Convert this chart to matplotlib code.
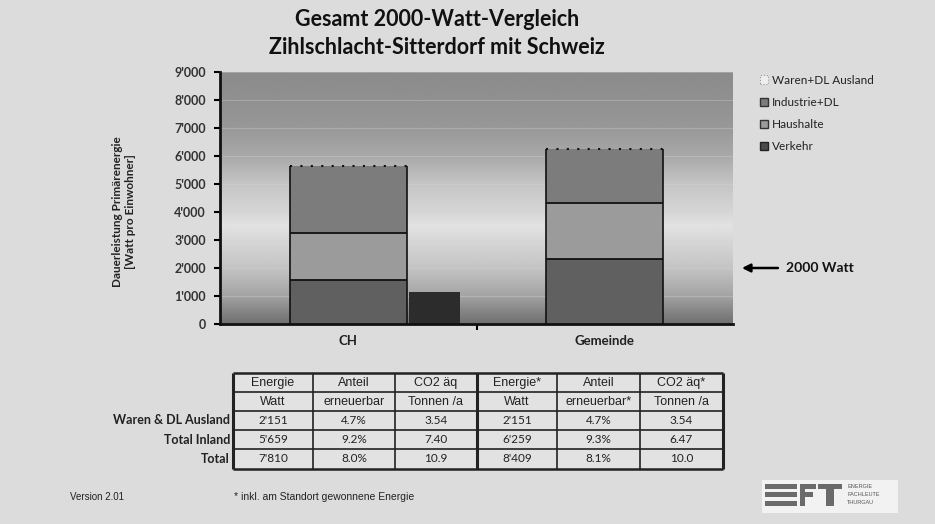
import matplotlib
matplotlib.use("Agg")
import matplotlib.pyplot as plt
import numpy as np
from matplotlib.patches import Patch, Rectangle
from matplotlib.ticker import FuncFormatter
import matplotlib.transforms as mtransforms

# --- data -------------------------------------------------------------
categories = ["CH", "Gemeinde"]
verkehr = [1580, 2320]
haushalte = [1680, 1990]
industrie = [2399, 1949]
total_inland = [5659, 6259]
shadow_height = [1130]          # dark block next to the CH bar
target_watt = 2000

series_names = ["Waren+DL Ausland", "Industrie+DL", "Haushalte", "Verkehr"]

col_head1 = ["Energie", "Anteil", "CO2 äq", "Energie*", "Anteil", "CO2 äq*"]
col_head2 = ["Watt", "erneuerbar", "Tonnen /a", "Watt", "erneuerbar*", "Tonnen /a"]
row_labels = ["Waren & DL Ausland", "Total Inland", "Total"]
table_rows = [
    ["2'151", "4.7%", "3.54", "2'151", "4.7%", "3.54"],
    ["5'659", "9.2%", "7.40", "6'259", "9.3%", "6.47"],
    ["7'810", "8.0%", "10.9", "8'409", "8.1%", "10.0"],
]

# --- styling ----------------------------------------------------------
BG = "#dcdcdc"
C_VERKEHR = "#606060"
C_HAUS = "#9b9b9b"
C_IND = "#7c7c7c"
FONT = "Lato"

fig = plt.figure(figsize=(9.35, 5.24), dpi=100, facecolor=BG)
W, H = 935, 524

ax = fig.add_axes([220 / W, 1 - 324 / H, 513 / W, 252 / H])
x = np.arange(len(categories))
bw = 0.456
ax.set_xlim(-0.5, 1.5)
ax.set_ylim(0, 9000)

# background gradient of the plot area
stops_y = [0, 500, 1000, 2000, 3000, 3500, 4000, 5000, 6000, 7000, 8000, 9000]
stops_g = [0x70, 0x88, 0xa4, 0xc4, 0xd8, 0xe2, 0xd6, 0xc4, 0xa8, 0x98, 0x90, 0x8b]
yy = np.linspace(0, 9000, 400)
gg = np.interp(yy, stops_y, stops_g) / 255.0
ax.imshow(gg[:, None], cmap="gray", vmin=0, vmax=1, aspect="auto",
          extent=[-0.5, 1.5, 0, 9000], origin="lower", zorder=0)
for v in range(1000, 9001, 1000):
    ax.axhline(v, color="#d4d4d4", lw=0.8, alpha=0.35, zorder=1)

# stacked bars
b1 = np.array(verkehr)
b2 = b1 + np.array(haushalte)
ax.bar(x, verkehr, bw, color=C_VERKEHR, zorder=2)
ax.bar(x, haushalte, bw, bottom=b1, color=C_HAUS, zorder=2)
ax.bar(x, industrie, bw, bottom=b2, color=C_IND, zorder=2)
ax.bar(x[:1] + 0.335, shadow_height, 0.2, color="#2c2c2c", zorder=2)

for i in x:
    ax.vlines([i - bw / 2, i + bw / 2], 0, total_inland[i], color="#111111", lw=1.2, zorder=3)
    ax.hlines([b1[i], b2[i]], i - bw / 2, i + bw / 2, color="#111111", lw=1.3, zorder=3)
    ax.hlines(total_inland[i], i - bw / 2, i + bw / 2, color="#111111", lw=1.5,
              linestyles=(0, (1, 4)), zorder=3)

# axes styling
for s in ["top", "right"]:
    ax.spines[s].set_visible(False)
ax.spines["left"].set_linewidth(2)
ax.spines["bottom"].set_linewidth(2)
ax.spines["left"].set_color("#111111")
ax.spines["bottom"].set_color("#111111")
ax.set_yticks(range(0, 9001, 1000))
ax.yaxis.set_major_formatter(FuncFormatter(lambda v, p: f"{int(v):,}".replace(",", "'")))
ax.tick_params(axis="y", direction="out", length=4, width=1.5, labelsize=9,
               labelcolor="#333333", pad=6)
for t in ax.get_yticklabels():
    t.set_fontfamily(FONT)
    t.set_fontweight("bold")
ax.set_xticks(x)
ax.set_xticklabels(categories, fontsize=9.5, fontweight="bold", fontfamily=FONT, color="#222222")
ax.tick_params(axis="x", length=0, pad=8)
ax.set_xticks([0.5], minor=True)
ax.tick_params(axis="x", which="minor", length=4, width=1.5, direction="out")

# legend
handles = [
    Patch(facecolor="#eeeeee", edgecolor="#999999", linestyle=":", lw=0.8),
    Patch(facecolor=C_IND, edgecolor="#333333", lw=1),
    Patch(facecolor=C_HAUS, edgecolor="#333333", lw=1),
    Patch(facecolor="#4a4a4a", edgecolor="#222222", lw=1),
]
fig.legend(handles, series_names, loc="upper left", bbox_to_anchor=(755 / W, 1 - 70 / H),
           frameon=False, prop={"family": FONT, "size": 8.5}, labelcolor="#222222",
           handlelength=0.7, handleheight=0.7, handletextpad=0.3, labelspacing=0.95,
           borderaxespad=0)

# 2000 Watt arrow
trans = mtransforms.blended_transform_factory(ax.transAxes, ax.transData)
ax.annotate("", xy=(1.012, target_watt), xytext=(1.093, target_watt), xycoords=trans,
            textcoords=trans, annotation_clip=False,
            arrowprops=dict(arrowstyle="-|>", color="black", lw=1.8, mutation_scale=12))
ax.text(1.103, target_watt, "2000 Watt", transform=trans, fontsize=10, fontweight="bold",
        fontfamily=FONT, va="center", ha="left", color="#111111")

# titles and axis label
fig.text(437 / W, 1 - 19 / H, "Gesamt 2000-Watt-Vergleich", ha="center", va="center",
         fontsize=15.5, fontweight="bold", fontfamily=FONT, color="#111111")
fig.text(437 / W, 1 - 47 / H, "Zihlschlacht-Sitterdorf mit Schweiz", ha="center", va="center",
         fontsize=15.5, fontweight="bold", fontfamily=FONT, color="#111111")
fig.text(124 / W, 1 - 212 / H, "Dauerleistung Primärenergie\n[Watt pro Einwohner]",
         rotation=90, ha="center", va="center", fontsize=8.5, fontweight="bold",
         fontfamily=FONT, color="#222222", linespacing=1.2)

# --- table (drawn in pixel coordinates) -------------------------------
tx = fig.add_axes([0, 0, 1, 1], zorder=-1)
tx.set_xlim(0, W)
tx.set_ylim(H, 0)
tx.axis("off")
cols = [233, 313, 395, 477, 557, 640, 723]
rows = [373, 392, 411, 430, 449, 469]
tx.add_patch(Rectangle((cols[0], rows[0]), cols[-1] - cols[0], rows[-1] - rows[0],
                       facecolor="#e2e2e2", edgecolor="none"))
for i, cx in enumerate(cols):
    lw = 2.2 if i in (0, 3, 6) else 1.2
    tx.plot([cx, cx], [rows[0], rows[-1]], color="#222222", lw=lw, solid_capstyle="butt")
for j, ry in enumerate(rows):
    lw = 1.8 if j in (0, 5) else 1.2
    tx.plot([cols[0], cols[-1]], [ry, ry], color="#222222", lw=lw, solid_capstyle="butt")

for c in range(6):
    cx = (cols[c] + cols[c + 1]) / 2
    tx.text(cx, (rows[0] + rows[1]) / 2 + 0.5, col_head1[c], ha="center", va="center",
            fontsize=9, fontfamily="Liberation Sans", color="#222222")
    tx.text(cx, (rows[1] + rows[2]) / 2 + 0.5, col_head2[c], ha="center", va="center",
            fontsize=9, fontfamily="Liberation Sans", color="#222222")
for r in range(3):
    cy = (rows[r + 2] + rows[r + 3]) / 2
    tx.text(cols[0] - 3, cy, row_labels[r], ha="right", va="center", fontsize=9,
            fontweight="bold", fontfamily=FONT, color="#222222")
    for c in range(6):
        tx.text((cols[c] + cols[c + 1]) / 2, cy, table_rows[r][c], ha="center", va="center",
                fontsize=8.5, fontfamily=FONT, color="#222222")

# footer
tx.text(70, 497, "Version 2.01", ha="left", va="center", fontsize=7,
        fontfamily="Liberation Sans", color="#222222")
tx.text(234, 497, "* inkl. am Standort gewonnene Energie", ha="left", va="center",
        fontsize=7.5, fontfamily="Liberation Sans", color="#222222")

# logo
tx.add_patch(Rectangle((762, 480), 136, 33, facecolor="#f2f2f2", edgecolor="none"))
logo = "#6a6a6a"
for yb in (484, 492, 501):
    tx.add_patch(Rectangle((765, yb), 32, 4.5, facecolor=logo, edgecolor="none"))
tx.add_patch(Rectangle((800, 484), 16, 4.5, facecolor=logo, edgecolor="none"))
tx.add_patch(Rectangle((800, 492), 13, 4.5, facecolor=logo, edgecolor="none"))
tx.add_patch(Rectangle((800, 484), 5, 21.5, facecolor=logo, edgecolor="none"))
tx.add_patch(Rectangle((818, 484), 24, 4.5, facecolor=logo, edgecolor="none"))
tx.add_patch(Rectangle((826, 484), 8, 21.5, facecolor=logo, edgecolor="none"))
for k, word in enumerate(["ENERGIE", "FACHLEUTE", "THURGAU"]):
    tx.text(847, 486 + 8.5 * k, word, ha="left", va="center", fontsize=4,
            fontfamily="Liberation Sans", color="#555555")

fig.savefig("out.png", dpi=100, facecolor=BG)
